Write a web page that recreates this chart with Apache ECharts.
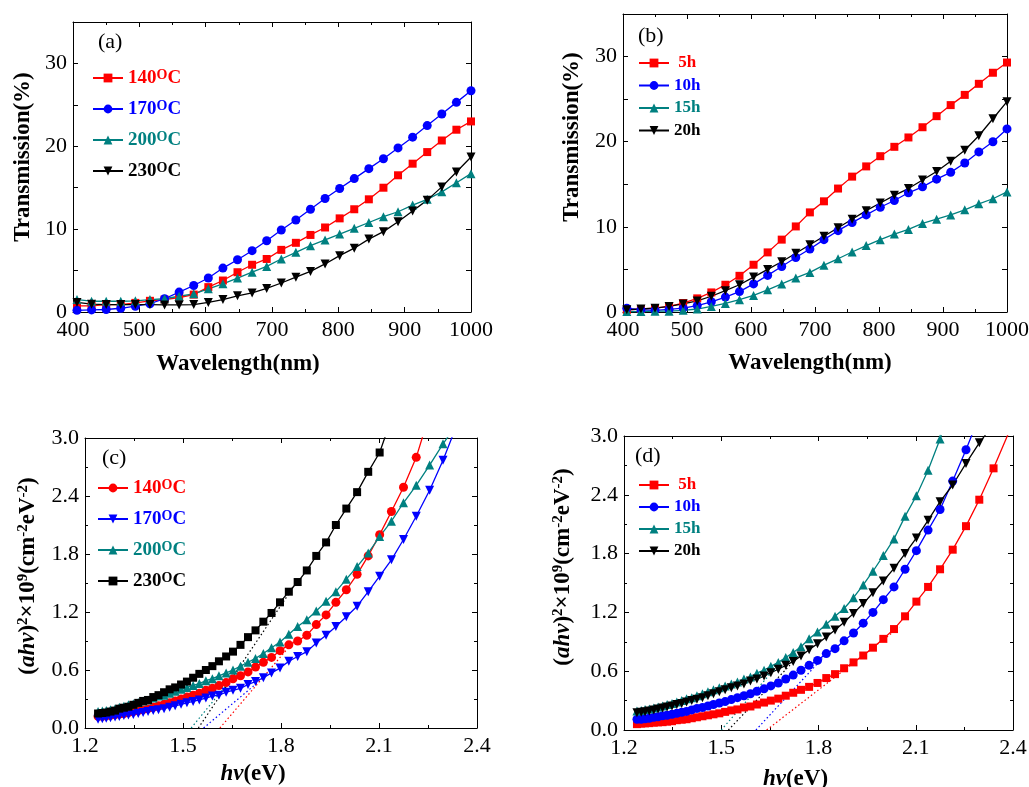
<!DOCTYPE html>
<html>
<head>
<meta charset="utf-8">
<script src="https://cdn.jsdelivr.net/npm/echarts@6/dist/echarts.min.js"></script>
<style>
html,body{margin:0;padding:0;background:#fff;}
#chart{width:1029px;height:787px;}
</style>
</head>
<body>
<div id="chart"></div>
<script>
// ---------- DATA ----------
// Panels (a),(b): wavelength (nm) at marker positions
const wavelength = [406,428,450,472,494,516,538,560,582,604,626,648,670,692,714,736,758,780,802,824,846,868,890,912,934,956,978,1000];
// (a) Transmission (%) vs annealing temperature
const a140 = [0.75,0.75,0.9,0.9,1.1,1.35,1.5,1.75,2.1,3.0,3.8,4.8,5.7,6.4,7.5,8.35,9.3,10.2,11.3,12.4,13.6,15.0,16.5,17.9,19.3,20.7,22.0,23.0];
const a170 = [0.2,0.25,0.3,0.45,0.7,1.0,1.6,2.4,3.2,4.1,5.3,6.3,7.4,8.6,9.9,11.1,12.4,13.7,14.9,16.1,17.3,18.5,19.8,21.1,22.5,23.9,25.3,26.7];
const a200 = [1.5,1.3,1.3,1.3,1.35,1.5,1.6,1.9,2.2,2.8,3.4,4.1,4.8,5.5,6.4,7.2,8.0,8.7,9.4,10.1,10.8,11.5,12.1,12.9,13.6,14.5,15.6,16.7];
const a230 = [1.15,0.95,0.9,0.9,0.9,0.9,0.85,0.85,0.9,1.15,1.5,1.95,2.3,2.85,3.5,4.2,4.9,5.8,6.8,7.7,8.8,9.7,10.9,12.2,13.5,15.1,16.9,18.7];
// (b) Transmission (%) vs annealing time
const b5h  = [0.25,0.35,0.45,0.65,1.05,1.6,2.3,3.2,4.25,5.55,7.0,8.5,10.05,11.7,13.0,14.5,15.9,17.1,18.3,19.4,20.5,21.7,23.0,24.3,25.5,26.8,28.1,29.3];
const b10h = [0.45,0.25,0.2,0.3,0.45,0.75,1.2,1.75,2.4,3.3,4.3,5.35,6.4,7.4,8.5,9.55,10.5,11.4,12.3,13.1,14.0,14.7,15.6,16.4,17.5,18.8,20.0,21.5];
const b15h = [0.05,0.05,0.1,0.1,0.2,0.35,0.65,1.0,1.45,1.95,2.6,3.3,4.0,4.65,5.5,6.25,7.05,7.8,8.5,9.15,9.7,10.4,10.9,11.4,12.0,12.7,13.3,14.1];
const b20h = [0.25,0.35,0.45,0.65,0.95,1.3,1.85,2.5,3.2,4.1,5.0,5.9,6.9,7.9,8.9,9.9,10.9,11.9,12.8,13.7,14.5,15.5,16.5,17.7,19.0,20.7,22.7,24.7];
// Panels (c),(d): photon energy hv (eV) at marker positions
const photonEnergy = [1.240,1.253,1.265,1.278,1.292,1.305,1.319,1.333,1.348,1.363,1.378,1.393,1.409,1.425,1.442,1.459,1.476,1.494,1.512,1.531,1.550,1.570,1.590,1.610,1.632,1.653,1.676,1.699,1.722,1.746,1.771,1.797,1.824,1.851,1.879,1.908,1.938,1.968,2.000,2.033,2.067,2.102,2.138,2.175,2.214,2.255,2.296,2.340,2.385];
// (c) (ahv)^2 x10^9
const c140 = [0.12,0.12,0.125,0.13,0.14,0.145,0.15,0.16,0.17,0.18,0.19,0.20,0.215,0.23,0.245,0.26,0.28,0.30,0.32,0.34,0.36,0.39,0.41,0.44,0.47,0.51,0.54,0.58,0.63,0.68,0.73,0.80,0.86,0.90,0.96,1.07,1.17,1.30,1.43,1.59,1.78,2.00,2.24,2.49,2.80,3.25];
const c170 = [0.09,0.095,0.10,0.105,0.115,0.12,0.13,0.135,0.14,0.15,0.16,0.17,0.18,0.19,0.20,0.215,0.23,0.245,0.26,0.275,0.29,0.31,0.33,0.34,0.37,0.39,0.41,0.45,0.48,0.52,0.57,0.62,0.69,0.74,0.79,0.88,0.96,1.05,1.15,1.26,1.41,1.57,1.74,1.95,2.19,2.46,2.77,3.15];
const c200 = [0.17,0.175,0.18,0.19,0.20,0.215,0.225,0.24,0.25,0.265,0.28,0.29,0.31,0.33,0.34,0.36,0.38,0.40,0.42,0.44,0.46,0.49,0.51,0.54,0.57,0.60,0.64,0.68,0.72,0.77,0.83,0.89,0.97,1.05,1.12,1.21,1.31,1.41,1.54,1.67,1.81,1.98,2.14,2.33,2.51,2.72,2.94,3.15];
const c230 = [0.15,0.155,0.16,0.17,0.18,0.20,0.21,0.22,0.24,0.26,0.28,0.29,0.32,0.34,0.37,0.40,0.42,0.45,0.48,0.52,0.56,0.60,0.64,0.69,0.74,0.79,0.86,0.94,1.01,1.10,1.19,1.30,1.41,1.51,1.63,1.78,1.92,2.10,2.27,2.44,2.65,2.85,3.2];
// (d)
const d5h  = [0.06,0.065,0.068,0.07,0.075,0.078,0.08,0.085,0.09,0.10,0.105,0.11,0.12,0.13,0.14,0.15,0.16,0.17,0.185,0.20,0.21,0.23,0.24,0.26,0.28,0.30,0.32,0.35,0.38,0.41,0.44,0.48,0.53,0.57,0.63,0.69,0.76,0.84,0.93,1.03,1.16,1.31,1.46,1.64,1.84,2.08,2.35,2.67,3.02];
const d10h = [0.11,0.11,0.115,0.12,0.13,0.135,0.145,0.15,0.16,0.17,0.18,0.19,0.205,0.22,0.23,0.245,0.26,0.275,0.29,0.31,0.33,0.35,0.37,0.395,0.42,0.45,0.48,0.52,0.56,0.61,0.66,0.71,0.78,0.83,0.91,0.99,1.09,1.20,1.33,1.46,1.64,1.83,2.04,2.25,2.54,2.86,3.2];
const d15h = [0.195,0.20,0.21,0.215,0.225,0.235,0.245,0.26,0.27,0.285,0.30,0.32,0.33,0.35,0.37,0.39,0.41,0.43,0.45,0.47,0.49,0.52,0.54,0.58,0.61,0.65,0.69,0.74,0.79,0.85,0.93,1.00,1.08,1.16,1.24,1.35,1.48,1.62,1.78,1.95,2.18,2.39,2.65,2.97,3.35];
const d20h = [0.175,0.18,0.185,0.195,0.205,0.215,0.225,0.235,0.245,0.26,0.27,0.285,0.30,0.315,0.33,0.35,0.37,0.39,0.41,0.43,0.45,0.47,0.50,0.52,0.55,0.585,0.62,0.66,0.70,0.755,0.82,0.88,0.95,1.02,1.10,1.19,1.29,1.40,1.52,1.65,1.80,1.96,2.14,2.33,2.50,2.72,2.93,3.12];
// Tangent (band-gap extrapolation) lines: [hv, value] end points
const tanC230 = [[1.547,0],[1.85,1.52]];
const tanC200 = [[1.525,0],[1.69,0.68]];
const tanC170 = [[1.563,0],[1.76,0.56]];
const tanC140 = [[1.613,0],[1.84,0.90]];
const tanD15h = [[1.500,0],[1.69,0.72]];
const tanD20h = [[1.522,0],[1.74,0.76]];
const tanD10h = [[1.607,0],[1.82,0.76]];
const tanD5h  = [[1.640,0],[2.05,1.05]];
// Legend labels
const tempLabels = ['140','170','200','230'];
const timeLabels = [' 5h','10h','15h','20h'];
const transAxisTicks = [0,10,20,30];

// ---------- STYLE ----------
const FONT = '"Liberation Serif", "Times New Roman", serif';
const RED = '#ff0000', BLUE = '#0000ff', TEAL = '#008080', BLACK = '#000000';
const INV_TRI = 'path://M0,0L2,0L1,1.75Z';

const chart = echarts.init(document.getElementById('chart'), null, {renderer: 'canvas'});

const grids = [
  {left: 73, top: 22, width: 398, height: 290},
  {left: 623, top: 14, width: 384, height: 298},
  {left: 85, top: 438, width: 392, height: 290},
  {left: 624, top: 436, width: 389, height: 294}
].map(g => Object.assign({outerBoundsMode: 'none', containLabel: false}, g));

const tickLabelStyle = {color: '#000', fontFamily: FONT, fontSize: 22};
const nameStyleBase = {color: '#000', fontFamily: FONT, fontSize: 23, fontWeight: 'bold', lineHeight: 24};

function axisPair(kind, gi, min, max, interval, minor, labelFmt, name, nameGap, padding, rich) {
  const common = {
    type: 'value', gridIndex: gi, min: min, max: max, interval: interval,
    axisLine: {show: true, onZero: false, lineStyle: {color: '#000', width: 1}},
    axisTick: {show: true, inside: true, length: 5, lineStyle: {color: '#000', width: 1}},
    minorTick: {show: minor, splitNumber: 2, length: 3, lineStyle: {color: '#000', width: 1}},
    splitLine: {show: false}, minorSplitLine: {show: false}
  };
  const main = Object.assign({}, common, {
    position: kind === 'x' ? 'bottom' : 'left',
    axisLabel: Object.assign({show: true, margin: kind === 'x' ? 7 : 6, formatter: labelFmt}, tickLabelStyle),
    name: name, nameLocation: 'middle', nameGap: nameGap,
    nameRotate: kind === 'x' ? 0 : 90,
    nameTextStyle: Object.assign({}, nameStyleBase, {padding: padding, rich: rich || {}})
  });
  const other = Object.assign({}, common, {
    position: kind === 'x' ? 'top' : 'right',
    axisLabel: {show: false}
  });
  return [main, other];
}

const fmt1 = v => v.toFixed(1);
const fmtInt = v => String(Math.round(v));
const fmtTrans = v => (transAxisTicks.indexOf(v) >= 0 ? String(v) : '');

const italicRich = {
  i: {fontFamily: FONT, fontSize: 23, fontWeight: 'bold', fontStyle: 'italic', color: '#000', lineHeight: 24},
  n: {fontFamily: FONT, fontSize: 23, fontWeight: 'bold', color: '#000', lineHeight: 24},
  s: {fontFamily: FONT, fontSize: 15, fontWeight: 'bold', verticalAlign: 'top', lineHeight: 4, color: '#000'}
};
const yNameCD = '{n|(}{i|ahv}{n|)}{s|2}{n|×10}{s|9}{n|(cm}{s|-2}{n|eV}{s|-2}{n|)}';
const xNameCD = '{i|hv}{n|(eV)}';

const xAxes = [].concat(
  axisPair('x', 0, 400, 1000, 100, true, fmtInt, 'Wavelength(nm)', 40, [0, 68, 0, 0]),
  axisPair('x', 1, 400, 1000, 100, true, fmtInt, 'Wavelength(nm)', 39, [0, 10, 0, 0]),
  axisPair('x', 2, 1.2, 2.4, 0.3, true, fmt1, xNameCD, 34, [0, 56, 0, 0], italicRich),
  axisPair('x', 3, 1.2, 2.4, 0.3, true, fmt1, xNameCD, 37, [0, 46, 0, 0], italicRich)
);
const yAxes = [].concat(
  axisPair('y', 0, 0, 35, 5, false, fmtTrans, 'Transmission(%)', 38, [0, 0, 0, 20]),
  axisPair('y', 1, 0, 35, 5, false, fmtTrans, 'Transmission(%)', 39, [0, 0, 0, 52]),
  axisPair('y', 2, 0, 3, 0.6, true, fmt1, yNameCD, 45, [0, 0, 0, 14], italicRich),
  axisPair('y', 3, 0, 3, 0.6, true, fmt1, yNameCD, 49, [0, 0, 0, 32], italicRich)
);

function pairs(xs, ys) { return ys.map((y, i) => [xs[i], y]); }

function lineSeries(id, axisIdx, xs, ys, color, symbol, size) {
  return {
    name: id, type: 'line', xAxisIndex: axisIdx * 2, yAxisIndex: axisIdx * 2,
    data: pairs(xs, ys), symbol: symbol, symbolSize: size, showSymbol: true,
    lineStyle: {color: color, width: 1.3}, itemStyle: {color: color, borderWidth: 0},
    color: color, clip: true, animation: false, z: 3
  };
}
function tangent(axisIdx, pts, color) {
  return {
    type: 'line', xAxisIndex: axisIdx * 2, yAxisIndex: axisIdx * 2,
    data: pts, symbol: 'none', silent: true,
    lineStyle: {color: color, width: 1.2, type: [1.5, 2.5]}, animation: false, z: 2
  };
}

const series = [
  lineSeries('a140', 0, wavelength, a140, RED, 'rect', 8),
  lineSeries('a170', 0, wavelength, a170, BLUE, 'circle', 9),
  lineSeries('a200', 0, wavelength, a200, TEAL, 'triangle', 9),
  lineSeries('a230', 0, wavelength, a230, BLACK, INV_TRI, 9),
  lineSeries('b5', 1, wavelength, b5h, RED, 'rect', 8),
  lineSeries('b10', 1, wavelength, b10h, BLUE, 'circle', 9),
  lineSeries('b15', 1, wavelength, b15h, TEAL, 'triangle', 9),
  lineSeries('b20', 1, wavelength, b20h, BLACK, INV_TRI, 9),
  tangent(2, tanC230, BLACK), tangent(2, tanC200, TEAL), tangent(2, tanC170, BLUE), tangent(2, tanC140, RED),
  lineSeries('c140', 2, photonEnergy, c140, RED, 'circle', 9),
  lineSeries('c170', 2, photonEnergy, c170, BLUE, INV_TRI, 9),
  lineSeries('c200', 2, photonEnergy, c200, TEAL, 'triangle', 9),
  lineSeries('c230', 2, photonEnergy, c230, BLACK, 'rect', 8),
  tangent(3, tanD15h, TEAL), tangent(3, tanD20h, BLACK), tangent(3, tanD10h, BLUE), tangent(3, tanD5h, RED),
  lineSeries('d5', 3, photonEnergy, d5h, RED, 'rect', 8),
  lineSeries('d10', 3, photonEnergy, d10h, BLUE, 'circle', 9),
  lineSeries('d15', 3, photonEnergy, d15h, TEAL, 'triangle', 9),
  lineSeries('d20', 3, photonEnergy, d20h, BLACK, INV_TRI, 9)
];

const legendText = {
  a140: '{m|' + tempLabels[0] + '}{s|O}{m|C}', a170: '{m|' + tempLabels[1] + '}{s|O}{m|C}', a200: '{m|' + tempLabels[2] + '}{s|O}{m|C}', a230: '{m|' + tempLabels[3] + '}{s|O}{m|C}',
  c140: '{m|' + tempLabels[0] + '}{s|O}{m|C}', c170: '{m|' + tempLabels[1] + '}{s|O}{m|C}', c200: '{m|' + tempLabels[2] + '}{s|O}{m|C}', c230: '{m|' + tempLabels[3] + '}{s|O}{m|C}',
  b5: timeLabels[0], b10: timeLabels[1], b15: timeLabels[2], b20: timeLabels[3],
  d5: timeLabels[0], d10: timeLabels[1], d15: timeLabels[2], d20: timeLabels[3]
};
function legItem(name, color, fs, lh) {
  return {name: name, textStyle: {color: color, rich: {
    m: {color: color, fontFamily: FONT, fontWeight: 'bold', fontSize: fs, lineHeight: lh},
    s: {color: color, fontFamily: FONT, fontWeight: 'bold', fontSize: Math.round(fs * 0.74), verticalAlign: 'top', lineHeight: 4}
  }}};
}
function makeLegend(names, colors, left, top, fs, lh, gap) {
  return {
    orient: 'vertical', left: left, top: top, itemWidth: 30, itemHeight: 11, itemGap: gap,
    selectedMode: false, padding: 0,
    data: names.map((n, i) => legItem(n, colors[i], fs, lh)),
    formatter: n => legendText[n],
    textStyle: {fontFamily: FONT, fontWeight: 'bold', fontSize: fs, lineHeight: lh}
  };
}
const colors4 = [RED, BLUE, TEAL, BLACK];

const option = {
  backgroundColor: '#fff',
  animation: false,
  grid: grids,
  xAxis: xAxes,
  yAxis: yAxes,
  legend: [
    makeLegend(['a140','a170','a200','a230'], colors4, 92, 68, 19, 20, 11),
    makeLegend(['b5','b10','b15','b20'], colors4, 638, 54, 17, 18, 4.5),
    makeLegend(['c140','c170','c200','c230'], colors4, 97, 478, 19, 20, 11),
    makeLegend(['d5','d10','d15','d20'], colors4, 638, 476, 17, 18, 4)
  ],
  graphic: [
    {type: 'text', left: 98, top: 31, style: {text: '(a)', fontFamily: FONT, fontSize: 22, fill: '#000'}},
    {type: 'text', left: 638, top: 25, style: {text: '(b)', fontFamily: FONT, fontSize: 22, fill: '#000'}},
    {type: 'text', left: 102, top: 447, style: {text: '(c)', fontFamily: FONT, fontSize: 22, fill: '#000'}},
    {type: 'text', left: 635, top: 445, style: {text: '(d)', fontFamily: FONT, fontSize: 22, fill: '#000'}}
  ],
  series: series
};
chart.setOption(option);
</script>
</body>
</html>
